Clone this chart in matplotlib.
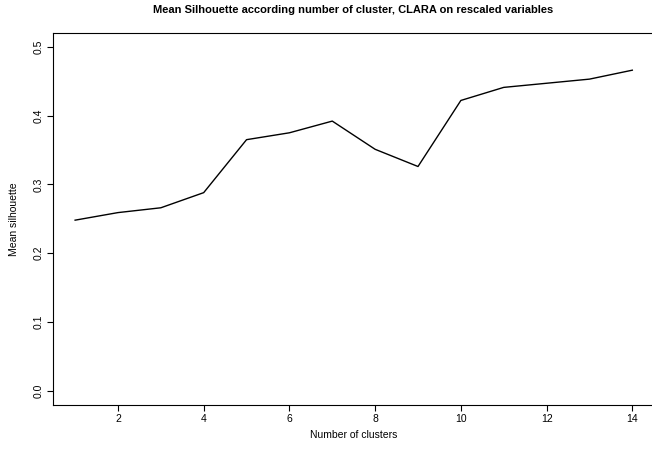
import matplotlib
matplotlib.use("Agg")
import matplotlib.pyplot as plt

# mean silhouette per number of clusters (CLARA, rescaled variables)
n_clusters = [1, 2, 3, 4, 5, 6, 7, 8, 9, 10, 11, 12, 13, 14]
mean_sil = [0.248, 0.259, 0.266, 0.288, 0.365, 0.375, 0.392, 0.351,
            0.326, 0.422, 0.441, 0.447, 0.453, 0.466]
x_ticks = [2, 4, 6, 8, 10, 12, 14]
y_ticks = [0.0, 0.1, 0.2, 0.3, 0.4, 0.5]

plt.rcParams['font.family'] = ['Liberation Sans', 'DejaVu Sans']

fig = plt.figure(figsize=(6.52, 4.5), dpi=100)
# R-like plot region, right edge runs a little past the image
ax = fig.add_axes([0.081, 0.101, 0.923, 0.8256])
ax.plot(n_clusters, mean_sil, color='black', linewidth=1.0)

# R pads the range by 4% on each side
ax.set_xlim(1 - 0.52, 14 + 0.52)
ax.set_ylim(-0.02, 0.52)
ax.set_xticks(x_ticks)
ax.set_yticks(y_ticks)
ax.set_yticklabels(['%.1f' % v for v in y_ticks], rotation=90, va='center')
ax.tick_params(axis='x', direction='out', length=4, width=0.8,
               labelsize=7.5, pad=3)
ax.tick_params(axis='y', direction='out', length=4, width=0.8,
               labelsize=7.5, pad=2.5)

for s in ax.spines.values():
    s.set_linewidth(0.8)

ax.set_xlabel('Number of clusters', fontsize=7.5, labelpad=4)
ax.set_ylabel('Mean silhouette', fontsize=7.5, labelpad=11)
fig.suptitle('Mean Silhouette according number of cluster, CLARA on rescaled variables',
             fontsize=8, fontweight='bold', x=0.541, y=0.988)

plt.savefig('out.png', dpi=100)
